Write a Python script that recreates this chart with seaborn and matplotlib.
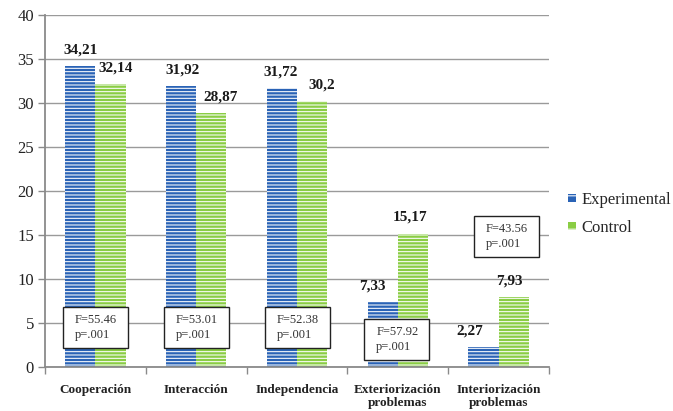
import matplotlib
matplotlib.use("Agg")
import matplotlib.pyplot as plt
from matplotlib.patches import Patch, Rectangle
import seaborn as sns
import pandas as pd

categories = ["Cooperación", "Interacción", "Independencia",
              "Exteriorización\nproblemas", "Interiorización\nproblemas"]
groups = ["Experimental", "Control"]
experimental = [34.21, 31.92, 31.72, 7.33, 2.27]
control = [32.14, 28.87, 30.2, 15.17, 7.93]
exp_labels = ["34,21", "31,92", "31,72", "7,33", "2,27"]
ctrl_labels = ["32,14", "28,87", "30,2", "15,17", "7,93"]
stats_text = ["F=55.46\np=.001", "F=53.01\np=.001", "F=52.38\np=.001",
              "F=57.92\np=.001", "F=43.56\np=.001"]
y_ticks = [0, 5, 10, 15, 20, 25, 30, 35, 40]

# layout (not data)
box_centers = [(0, 4.5), (1, 4.5), (2, 4.5), (2.99, 3.1), (4.08, 14.8)]
exp_dx = [0, 1, -1, -10, -14]
ctrl_dx = [5, 9, 10, -3, -4]

sns.set_theme(style="white")
plt.rcParams["font.family"] = "serif"
plt.rcParams["font.serif"] = ["Liberation Serif", "DejaVu Serif"]
plt.rcParams["hatch.linewidth"] = 0.75

df = pd.DataFrame({
    "cat": categories * 2,
    "grupo": [groups[0]] * 5 + [groups[1]] * 5,
    "val": experimental + control,
})

colors = {"Experimental": "#2A63B6", "Control": "#8ACD44"}

fig = plt.figure(figsize=(6.73, 4.11), dpi=100)
ax = fig.add_axes([45 / 673, 1 - 367 / 411, 504 / 673, 352 / 411])

sns.barplot(data=df, x="cat", y="val", hue="grupo", hue_order=groups,
            palette=colors, width=0.6, ax=ax, legend=False,
            edgecolor="white", linewidth=0, saturation=1, zorder=2)

for cont in ax.containers:
    for p in cont:
        p.set_hatch("-----")

ax.set_ylim(0, 40)
ax.set_xlim(-0.5, 4.5)
ax.set_yticks(y_ticks)
ax.set_yticklabels([str(v) for v in y_ticks], fontsize=12, color="#222222")
ax.yaxis.grid(True, color="#9a9a9a", linewidth=1)
ax.set_axisbelow(True)
ax.set_xlabel("")
ax.set_ylabel("")
ax.set_xticks(range(5))
ax.set_xticklabels(categories, fontsize=9.5, fontweight="bold", color="#222222",
                   linespacing=1.15)
ax.tick_params(axis="x", which="major", length=0, pad=12)
ax.set_xticks([-0.5, 0.5, 1.5, 2.5, 3.5, 4.5], minor=True)
ax.tick_params(axis="x", which="minor", length=5, color="#8a8a8a", width=1,
               direction="out", bottom=True)
ax.tick_params(axis="y", length=5, color="#8a8a8a", width=1, direction="out",
               left=True, pad=3)
for s in ["top", "right"]:
    ax.spines[s].set_visible(False)
for s in ["left", "bottom"]:
    ax.spines[s].set_color("#8a8a8a")
    ax.spines[s].set_linewidth(1.3)

# value labels
for cont, labels, dxs in zip(ax.containers, [exp_labels, ctrl_labels], [exp_dx, ctrl_dx]):
    for bar, lab, dx in zip(cont, labels, dxs):
        x = bar.get_x() + bar.get_width() / 2
        y = bar.get_height()
        ax.annotate(lab, (x, y), xytext=(dx, 16), textcoords="offset pixels",
                    ha="center", va="center", fontsize=11, fontweight="bold",
                    color="#1a1a1a", zorder=5)

# stats boxes
bw, bh = 65 / 100.8, 41 / 8.8
for (cx, cy), txt in zip(box_centers, stats_text):
    ax.add_patch(Rectangle((cx - bw / 2, cy - bh / 2), bw, bh, facecolor="white",
                           edgecolor="#222222", linewidth=1.0, zorder=4))
    ax.text(cx - bw / 2 + 12 / 100.8, cy, txt, ha="left", va="center",
            fontsize=9, color="#333333", linespacing=1.35, zorder=5)

handles = [Patch(facecolor=colors[g], edgecolor="white", linewidth=0, hatch="--")
           for g in groups]
fig.legend(handles, groups, loc="center left", bbox_to_anchor=(568 / 673, 1 - 214 / 411),
           frameon=False, fontsize=12, handlelength=0.5, handleheight=0.4,
           handletextpad=0.3, labelspacing=0.7, borderpad=0, borderaxespad=0)

fig.savefig("out.png", dpi=100)
